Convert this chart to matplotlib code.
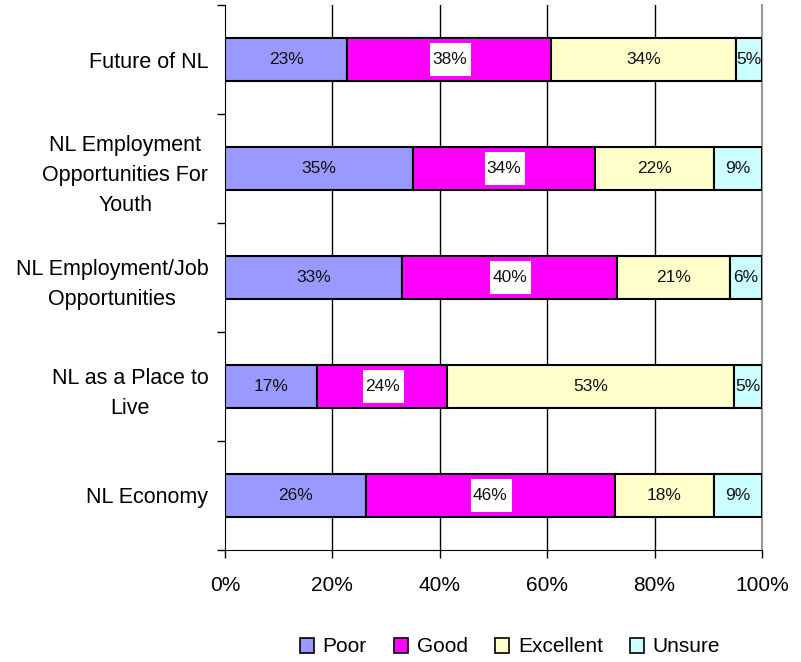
import matplotlib
matplotlib.use("Agg")
import matplotlib.pyplot as plt
from matplotlib.patches import Patch
import numpy as np

plt.rcParams['font.family'] = ['Liberation Sans', 'DejaVu Sans']

categories = ["Future of NL",
              "NL Employment\nOpportunities For\nYouth",
              "NL Employment/Job\nOpportunities",
              "NL as a Place to\nLive",
              "NL Economy"]
series_names = ["Poor", "Good", "Excellent", "Unsure"]
poor = [22.8, 35.0, 33.0, 17.2, 26.2]
good = [38.0, 33.9, 40.0, 24.2, 46.4]
excellent = [34.3, 22.2, 21.0, 53.4, 18.4]
unsure = [4.9, 8.9, 6.0, 5.2, 9.0]
colors = ["#9999FF", "#FF00FF", "#FFFFCC", "#CCFFFF"]
xtick_labels = ["0%", "20%", "40%", "60%", "80%", "100%"]

fig = plt.figure(figsize=(8.01, 6.62), dpi=100)
ax = fig.add_axes([225/801, 1-550/662, 537/801, 545/662])

y = np.arange(len(categories))[::-1]
left = np.zeros(len(categories))
for name, vals, col in zip(series_names, [poor, good, excellent, unsure], colors):
    vals = np.array(vals)
    ax.barh(y, vals, left=left, height=0.4, color=col, edgecolor="black",
            linewidth=1.5, zorder=3)
    centers = left + vals / 2
    if name == "Good":
        # white label background boxes
        ax.barh(y, 7.6, left=centers - 3.6, height=0.31, color="white",
                edgecolor="none", zorder=3.5)
    for yi, c, v in zip(y, centers, vals):
        ax.text(c, yi, f"{v:.0f}%", ha="center", va="center",
                fontsize=12.5, color="#111111", zorder=4)
    left = left + vals

ax.set_xlim(0, 100)
ax.set_ylim(-0.5, 4.5)
ax.set_xticks([0, 20, 40, 60, 80, 100])
ax.set_xticklabels(xtick_labels, fontsize=15)
ax.set_yticks(y)
ax.set_yticklabels(categories, fontsize=15.5, linespacing=1.55,
                   multialignment="center")
ax.set_yticks(np.arange(-0.5, 5.0, 1.0), minor=True)
ax.tick_params(axis="y", which="major", length=0, pad=12)
ax.tick_params(axis="y", which="minor", length=6, width=1, color="black")
ax.tick_params(axis="x", length=6, width=1, pad=13)

for xv in [20, 40, 60, 80]:
    ax.axvline(xv, color="black", linewidth=1, zorder=1)

ax.spines["top"].set_visible(False)
ax.spines["right"].set_color("#999999")
ax.spines["right"].set_linewidth(1.5)
ax.spines["left"].set_color("black")
ax.spines["bottom"].set_color("black")

handles = [Patch(facecolor=c, edgecolor="black", linewidth=1.2, label=n)
           for n, c in zip(series_names, colors)]
fig.legend(handles=handles, loc="center", bbox_to_anchor=(510/801, 1-647/662),
           ncol=4, frameon=False, fontsize=15, handlelength=0.7,
           handleheight=0.7, handletextpad=0.4, columnspacing=1.3)

fig.savefig("out.png", dpi=100)
